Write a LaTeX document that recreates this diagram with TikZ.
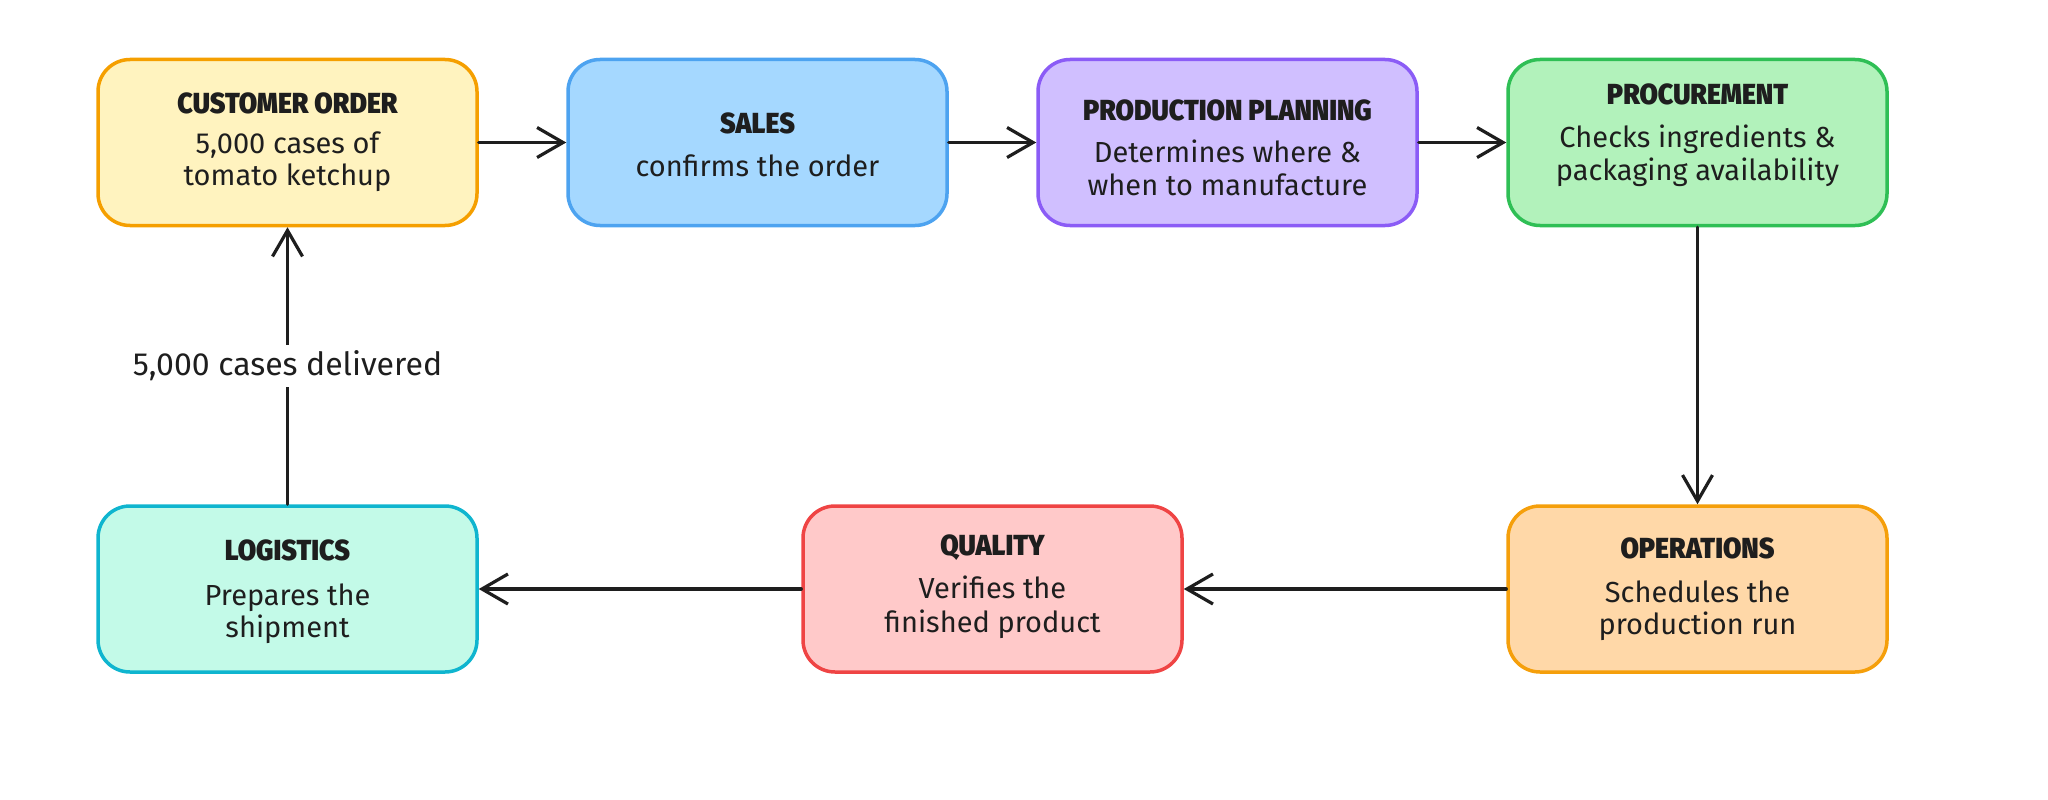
\documentclass[tikz,border=0pt]{standalone}
\usepackage{fontspec}
\setmainfont{Fira Sans}
\newfontfamily\titlefont{Fira Sans}[UprightFont=* Black, FakeStretch=0.92]
\usetikzlibrary{arrows.meta}
\definecolor{ink}{HTML}{1E1E1E}
\definecolor{yfill}{HTML}{FFF3BF}\definecolor{ystroke}{HTML}{F59F00}
\definecolor{bfill}{HTML}{A5D8FF}\definecolor{bstroke}{HTML}{4DA3F0}
\definecolor{pfill}{HTML}{D0BFFF}\definecolor{pstroke}{HTML}{8B5CF6}
\definecolor{gfill}{HTML}{B2F2BB}\definecolor{gstroke}{HTML}{2FBF55}
\definecolor{ofill}{HTML}{FFD8A8}\definecolor{ostroke}{HTML}{F59F0B}
\definecolor{rfill}{HTML}{FFC9C9}\definecolor{rstroke}{HTML}{EF4444}
\definecolor{tfill}{HTML}{C3FAE8}\definecolor{tstroke}{HTML}{0FB5CF}
\tikzset{
  box/.style={rounded corners=32pt, line width=3.5pt, minimum width=379pt, minimum height=166pt, inner sep=0pt},
  ttl/.style={anchor=base, text=ink, font=\titlefont\fontsize{29}{34}\selectfont},
  bdy/.style={anchor=base, text=ink, font=\fontsize{29}{34}\selectfont},
  arr/.style={draw=ink, line width=3.2pt, line cap=round, -{Straight Barb[length=26pt,width=30pt,line width=3.2pt]}},
  lbl/.style={fill=white, text=ink, inner sep=6pt, font=\fontsize{32}{36}\selectfont}
}
\begin{document}
\begin{tikzpicture}[x=1pt,y=-1pt]
\useasboundingbox (0,0) rectangle (2048,800);
% boxes
\node[box, fill=yfill, draw=ystroke] (cust) at (287.5,142.5) {};
\node[box, fill=bfill, draw=bstroke] (sales) at (757.5,142.5) {};
\node[box, fill=pfill, draw=pstroke] (plan) at (1227.5,142.5) {};
\node[box, fill=gfill, draw=gstroke] (proc) at (1697.5,142.5) {};
\node[box, fill=ofill, draw=ostroke] (ops) at (1697.5,589) {};
\node[box, fill=rfill, draw=rstroke] (qual) at (992.5,589) {};
\node[box, fill=tfill, draw=tstroke] (logi) at (287.5,589) {};
% texts
\node[ttl] (custT) at (287.5,113) {CUSTOMER ORDER};
\node[bdy] (custB1) at (287.5,153) {5,000 cases of};
\node[bdy] (custB2) at (287.5,185) {tomato ketchup};
\node[ttl] (salesT) at (757.5,133) {SALES};
\node[bdy] (salesB) at (757.5,176) {confirms the order};
\node[ttl] (planT) at (1227.5,120) {PRODUCTION PLANNING};
\node[bdy] (planB1) at (1227.5,162) {Determines where \&};
\node[bdy] (planB2) at (1227.5,195) {when to manufacture};
\node[ttl] (procT) at (1697.5,104) {PROCUREMENT};
\node[bdy] (procB1) at (1697.5,147) {Checks ingredients \&};
\node[bdy] (procB2) at (1697.5,180) {packaging availability};
\node[ttl] (opsT) at (1697.5,558) {OPERATIONS};
\node[bdy] (opsB1) at (1697.5,602) {Schedules the};
\node[bdy] (opsB2) at (1697.5,634) {production run};
\node[ttl] (qualT) at (992.5,555) {QUALITY};
\node[bdy] (qualB1) at (992.5,598) {Verifies the};
\node[bdy] (qualB2) at (992.5,632) {finished product};
\node[ttl] (logiT) at (287.5,560) {LOGISTICS};
\node[bdy] (logiB1) at (287.5,605) {Prepares the};
\node[bdy] (logiB2) at (287.5,637) {shipment};
% connectors
\draw[arr] (cust.east) -- (sales.west);
\draw[arr] (sales.east) -- (plan.west);
\draw[arr] (plan.east) -- (proc.west);
\draw[arr] (proc.south) -- (ops.north);
\draw[arr] (ops.west) -- (qual.east);
\draw[arr] (qual.west) -- (logi.east);
\draw[arr] (logi.north) -- node[lbl] (dlv) {5,000 cases delivered} (cust.south);
\end{tikzpicture}
\end{document}
